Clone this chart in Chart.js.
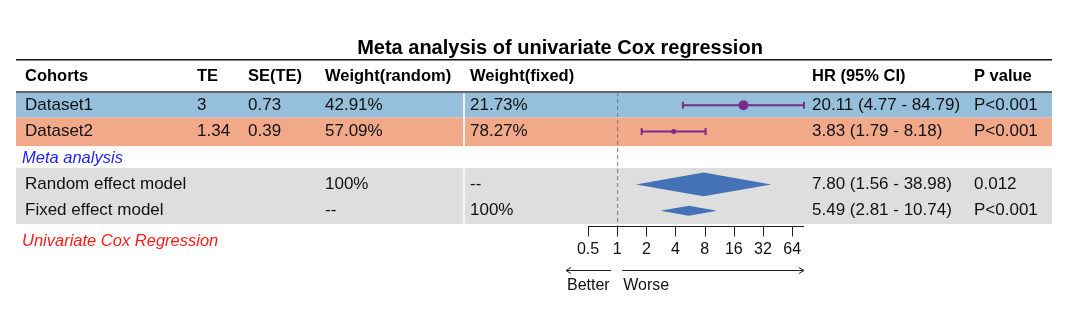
<!DOCTYPE html>
<html>
<head>
<meta charset="utf-8">
<script src="https://cdn.jsdelivr.net/npm/chart.js@4"></script>
<style>
  html, body { margin: 0; padding: 0; background: #fff; }
  #wrap { width: 1080px; height: 326px; }
</style>
</head>
<body>
<div id="wrap"><canvas id="forest" width="1080" height="326"></canvas></div>
<script>
// study rows
const cohorts  = ['Dataset1', 'Dataset2'];
const teVals   = ['3', '1.34'];
const seVals   = ['0.73', '0.39'];
const wRandom  = ['42.91%', '57.09%'];
const wFixed   = ['21.73%', '78.27%'];
const hrVals   = [20.11, 3.83];
const hrLow    = [4.77, 1.79];
const hrHigh   = [84.79, 8.18];
const pVals    = ['P<0.001', 'P<0.001'];

// pooled rows
const models       = ['Random effect model', 'Fixed effect model'];
const modelWRandom = ['100%', '--'];
const modelWFixed  = ['--', '100%'];
const modelHr      = [7.80, 5.49];
const modelLow     = [1.56, 2.81];
const modelHigh    = [38.98, 10.74];
const modelP       = ['0.012', 'P<0.001'];

const xTicks  = [0.5, 1, 2, 4, 8, 16, 32, 64];
const headers = ['Cohorts', 'TE', 'SE(TE)', 'Weight(random)', 'Weight(fixed)', 'HR (95% CI)', 'P value'];

// rows on the y scale: 1,2 = studies, 3 = "Meta analysis", 4,5 = models
const studyRows = [1, 2];
const modelRows = [4, 5];

const FONT    = "'Liberation Sans', Arial, sans-serif";
const PURPLE  = '#7a2a8a';
const DIAMOND = '#4472b6';
const ROW_BG  = ['#95bfdb', '#f2a98a'];
const GRAY_BG = '#dedede';
const COLX    = [25, 197, 248, 325, 470, 812, 974];
const pointSize = [5, 2.5];
const diamondHalf = [0.45, 0.19];
// band edges (in row units) for the two study rows
const bandEdges = [[0.5, 1.47], [1.47, 2.55]];

function ci(h, l, u) {
    return h.toFixed(2) + ' (' + l.toFixed(2) + ' - ' + u.toFixed(2) + ')';
}

const datasets = [];
studyRows.forEach((row, i) => {
    datasets.push({
        data: [{ x: hrLow[i], y: row }, { x: hrHigh[i], y: row }],
        showLine: true,
        borderColor: PURPLE,
        borderWidth: 2,
        pointStyle: 'line',
        rotation: 90,
        pointRadius: 3.5,
        pointBorderColor: PURPLE,
        pointBorderWidth: 2,
        clip: false,
    });
});
datasets.push({
    data: studyRows.map((row, i) => ({ x: hrVals[i], y: row })),
    pointRadius: pointSize,
    pointStyle: 'circle',
    backgroundColor: PURPLE,
    borderColor: PURPLE,
    pointBorderWidth: 0,
    clip: false,
});
modelRows.forEach((row, i) => {
    const h = diamondHalf[i];
    datasets.push({
        data: [
            { x: modelLow[i],  y: row },
            { x: modelHr[i],   y: row - h },
            { x: modelHigh[i], y: row },
            { x: modelHr[i],   y: row + h },
            { x: modelLow[i],  y: row },
        ],
        showLine: true,
        fill: 'shape',
        backgroundColor: DIAMOND,
        borderColor: DIAMOND,
        borderWidth: 0,
        pointRadius: 0,
        tension: 0,
        clip: false,
    });
});

function text(ctx, s, x, y, opts) {
    opts = opts || {};
    ctx.font = (opts.style || '') + ' ' + (opts.size || 17) + 'px ' + FONT;
    ctx.fillStyle = opts.color || '#111';
    ctx.textAlign = opts.align || 'left';
    ctx.textBaseline = 'middle';
    ctx.fillText(s, x, y);
}

const tablePlugin = {
    id: 'forestTable',
    beforeDatasetsDraw(chart) {
        const ctx = chart.ctx;
        const x = chart.scales.x, y = chart.scales.y;
        const L = 16, R = 1052;
        ctx.save();
        studyRows.forEach((row, i) => {
            const t = y.getPixelForValue(bandEdges[i][0]), b = y.getPixelForValue(bandEdges[i][1]);
            ctx.fillStyle = ROW_BG[i];
            ctx.fillRect(L, t, R - L, b - t);
        });
        const gt = y.getPixelForValue(modelRows[0] - 0.62);
        const gb = y.getPixelForValue(modelRows[1] + 0.5);
        ctx.fillStyle = GRAY_BG;
        ctx.fillRect(L, gt, R - L, gb - gt);

        // light column separator
        ctx.fillStyle = '#f4f4f4';
        const st = y.getPixelForValue(bandEdges[0][0]), sb = y.getPixelForValue(bandEdges[1][1]);
        ctx.fillRect(463, st, 2, sb - st);
        ctx.fillRect(463, gt, 2, gb - gt);

        // reference line at HR = 1
        const x1 = x.getPixelForValue(1);
        ctx.strokeStyle = '#777';
        ctx.lineWidth = 1;
        ctx.setLineDash([4, 3]);
        ctx.beginPath();
        ctx.moveTo(x1 + 0.5, y.top);
        ctx.lineTo(x1 + 0.5, y.bottom + 2);
        ctx.stroke();
        ctx.setLineDash([]);
        ctx.restore();
    },
    afterDatasetsDraw(chart) {
        const ctx = chart.ctx;
        const x = chart.scales.x, y = chart.scales.y;
        ctx.save();

        text(ctx, 'Meta analysis of univariate Cox regression', 560, 48, { style: 'bold', size: 20, align: 'center', color: '#000' });
        ctx.fillStyle = '#111';
        ctx.fillRect(16, 59, 1036, 1.5);

        headers.forEach((h, i) => text(ctx, h, COLX[i], 76, { style: 'bold', size: 16.5, color: '#000' }));
        ctx.fillStyle = '#666';
        ctx.fillRect(16, 91, 1036, 2);

        studyRows.forEach((row, i) => {
            const py = y.getPixelForValue(row);
            const cells = [cohorts[i], teVals[i], seVals[i], wRandom[i], wFixed[i], ci(hrVals[i], hrLow[i], hrHigh[i]), pVals[i]];
            cells.forEach((c, j) => text(ctx, c, COLX[j], py));
        });

        text(ctx, 'Meta analysis', 22, y.getPixelForValue(3), { style: 'italic', size: 16.5, color: '#1f1fff' });

        modelRows.forEach((row, i) => {
            const py = y.getPixelForValue(row);
            text(ctx, models[i], COLX[0], py);
            text(ctx, modelWRandom[i], COLX[3], py);
            text(ctx, modelWFixed[i], COLX[4], py);
            text(ctx, ci(modelHr[i], modelLow[i], modelHigh[i]), COLX[5], py);
            text(ctx, modelP[i], COLX[6], py);
        });

        text(ctx, 'Univariate Cox Regression', 22, 241, { style: 'italic', size: 16.5, color: '#ff1a1a' });

        // x axis
        const ay = y.bottom + 2.5;
        ctx.strokeStyle = '#222';
        ctx.lineWidth = 1;
        ctx.beginPath();
        ctx.moveTo(x.left, ay);
        ctx.lineTo(x.right, ay);
        xTicks.forEach(t => {
            const px = Math.round(x.getPixelForValue(t)) + 0.5;
            ctx.moveTo(px, ay);
            ctx.lineTo(px, ay + 10);
        });
        ctx.stroke();
        xTicks.forEach(t => text(ctx, String(t), x.getPixelForValue(t), 250, { size: 16, align: 'center' }));

        // Better / Worse arrows
        const x1 = x.getPixelForValue(1);
        const arY = 270.5;
        ctx.beginPath();
        ctx.moveTo(x1 - 6, arY); ctx.lineTo(x.left - 22, arY);
        ctx.moveTo(x.left - 17, arY - 3); ctx.lineTo(x.left - 22, arY); ctx.lineTo(x.left - 17, arY + 3);
        ctx.moveTo(x1 + 5, arY); ctx.lineTo(x.right, arY);
        ctx.moveTo(x.right - 5, arY - 3); ctx.lineTo(x.right, arY); ctx.lineTo(x.right - 5, arY + 3);
        ctx.stroke();
        text(ctx, 'Better', x.left - 21, 286, { size: 16 });
        text(ctx, 'Worse', x1 + 6, 286, { size: 16 });

        ctx.restore();
    }
};

new Chart(document.getElementById('forest'), {
    type: 'scatter',
    data: { datasets },
    options: {
        responsive: false,
        animation: false,
        events: [],
        layout: { padding: { left: 588, right: 276, top: 92, bottom: 102 } },
        scales: {
            x: { type: 'logarithmic', min: 0.5, max: 84.79, display: false },
            y: { type: 'linear', min: 0.5, max: 5.5, reverse: true, display: false },
        },
        plugins: { legend: { display: false }, tooltip: { enabled: false } },
    },
    plugins: [tablePlugin],
});
</script>
</body>
</html>
